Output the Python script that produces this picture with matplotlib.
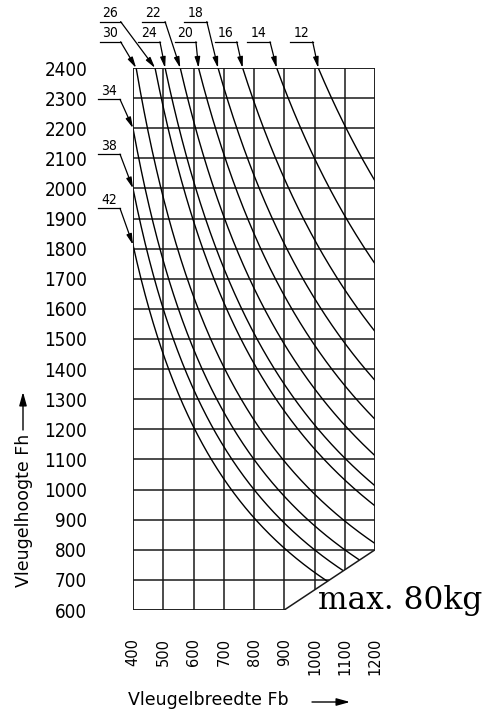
import numpy as np
import matplotlib.pyplot as plt
from matplotlib.patches import Polygon

# chart values
fb_ticks = [400, 500, 600, 700, 800, 900, 1000, 1100, 1200]
fh_ticks = list(range(600, 2401, 100))
# outline of the usable area (Fb, Fh) - bottom right corner is cut off by max. 80kg
outline_fb = [400, 900, 1200, 1200, 400]
outline_fh = [600, 600, 800, 2400, 2400]
# curve label and the constant Fb*Fh (in m2)
curve_labels = [12, 14, 16, 18, 20, 22, 24, 26, 30, 34, 38, 42]
curve_area = [2.43, 2.10, 1.83, 1.635, 1.48, 1.335, 1.215, 1.135, 0.985, 0.88, 0.80, 0.725]

# layout of the curve labels: (left Fb, right Fb, Fh of underline)
label_pos = {
    26: (291, 359, 2554), 22: (429, 506, 2554), 18: (569, 644, 2554),
    30: (291, 359, 2487), 24: (418, 489, 2487), 20: (539, 608, 2487),
    16: (671, 743, 2487), 14: (776, 853, 2487), 12: (919, 994, 2487),
    34: (285, 357, 2296), 38: (285, 357, 2114), 42: (285, 357, 1934),
}

fig = plt.figure(figsize=(4.99, 7.15), dpi=100)
ax = fig.add_axes([133/499, 105/715, 242/499, 542/715])
ax.set_xlim(400, 1200)
ax.set_ylim(600, 2400)
for s in ax.spines.values():
    s.set_visible(False)

outline = Polygon(list(zip(outline_fb, outline_fh)), closed=True, fill=False,
                  lw=1.1, ec='#1a1a1a', zorder=3)
ax.add_patch(outline)

# grid, clipped by the outline
for x in fb_ticks:
    ln, = ax.plot([x, x], [600, 2400], color='#1a1a1a', lw=1.1)
    ln.set_clip_path(outline)
for y in fh_ticks:
    ln, = ax.plot([400, 1200], [y, y], color='#1a1a1a', lw=1.1)
    ln.set_clip_path(outline)

# curves
for lab, a in zip(curve_labels, curve_area):
    k = a * 1e6
    start = max(400, k / 2400)
    fb = np.linspace(start, 1200, 300)
    ln, = ax.plot(fb, k / fb, color='black', lw=1.0)
    ln.set_clip_path(outline)
    tip = (start, min(2400, k / start))
    x0, x1, yl = label_pos[lab]
    ax.plot([x0, x1], [yl, yl], color='black', lw=0.9, clip_on=False)
    ax.text((x0 + x1) / 2, yl + 5, str(lab), ha='center', va='bottom',
            fontsize=10, family='DejaVu Sans', fontstretch='condensed')
    ax.annotate('', xy=tip, xytext=(x1, yl), annotation_clip=False,
                arrowprops=dict(arrowstyle='-|>,head_length=0.8,head_width=0.2',
                                mutation_scale=8, lw=0.9, color='black',
                                shrinkA=0, shrinkB=0))

ax.set_xticks(fb_ticks)
ax.set_xticklabels([str(v) for v in fb_ticks], rotation=90, fontsize=10.5)
ax.set_yticks(fh_ticks)
ax.set_yticklabels([str(v) for v in fh_ticks], fontsize=13.5,
                   family='DejaVu Sans', fontstretch='condensed')
ax.tick_params(axis='x', length=0, pad=20)
ax.tick_params(axis='y', length=0, pad=33)

fig.text(318, 114, 'max. 80kg', transform=None, fontsize=22.5, family='DejaVu Serif',
         va='center', ha='left')
fig.text(208, 15, 'Vleugelbreedte Fb', transform=None, fontsize=12.5,
         ha='center', va='center')
fig.text(24, 205, 'Vleugelhoogte Fh', transform=None, fontsize=12.5,
         rotation=90, ha='center', va='center')
ax.annotate('', xy=(350, 13), xytext=(312, 13), xycoords='figure pixels',
            textcoords='figure pixels',
            arrowprops=dict(arrowstyle='-|>,head_length=0.9,head_width=0.25',
                            mutation_scale=9, lw=1, color='black', shrinkA=0, shrinkB=0))
ax.annotate('', xy=(23, 323), xytext=(23, 285), xycoords='figure pixels',
            textcoords='figure pixels',
            arrowprops=dict(arrowstyle='-|>,head_length=0.9,head_width=0.25',
                            mutation_scale=9, lw=1, color='black', shrinkA=0, shrinkB=0))

fig.savefig('out.png', dpi=100)
